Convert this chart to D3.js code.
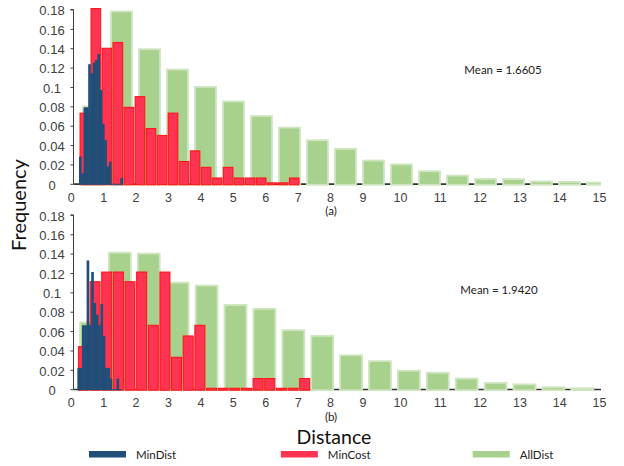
<!DOCTYPE html>
<html><head><meta charset="utf-8">
<script src="https://cdn.jsdelivr.net/npm/d3@7"></script>
<style>body{margin:0;background:#fff} svg{display:block}</style>
</head><body>
<script>
// ---------- data ----------
const xTickLabels = [0,1,2,3,4,5,6,7,8,9,10,11,12,13,14,15];
const yTickValues = [0,0.02,0.04,0.06,0.08,0.1,0.12,0.14,0.16,0.18];
const seriesNames = ["MinDist","MinCost","AllDist"];

// panel (a)
const allDistA = [0.080,0.178,0.139,0.118,0.100,0.085,0.070,0.058,0.045,0.036,0.024,0.020,0.013,0.0085,0.005,0.0048,0.0024,0.002,0.0013];
const minCostA = [0.073,0.181,0.140,0.146,0.079,0.090,0.057,0.050,0.073,0.023,0.034,0.017,0.006,0.017,0.006,0.006,0.006,0.001,0.001,0.006];
const minDistA = [0.028,0.011,0.079,0.079,0.1235,0.114,0.125,0.128,0.134,0.097,0.062,0.045,0.018,0.023,0,0,0,0,0.006];
const meanA = "Mean = 1.6605";

// panel (b)
const allDistB = [0.069,0.141,0.140,0.110,0.107,0.087,0.083,0.061,0.055,0.035,0.029,0.019,0.017,0.011,0.0065,0.005,0.002,0.001];
const minCostB = [0.044,0.111,0.121,0.121,0.111,0.121,0.066,0.121,0.033,0.055,0.066,0.001,0.001,0.001,0.001,0.011,0.011,0.001,0.001,0.011];
const minDistB = [0.022,0.022,0.066,0.066,0.133,0.066,0.121,0.089,0.077,0.066,0.088,0.055,0.022,0.022,0.011,0,0,0.011,0];
const meanB = "Mean = 1.9420";

// bin geometry (in AllDist-bin units): [first edge, step, bar width]
const binsA = {allDist:[0,1,0.75], minCost:[-0.107,0.3936,0.345], minDist:[-0.143,0.0821,0.0821]};
const binsB = {allDist:[0,1,0.76], minCost:[-0.055,0.403,0.346], minDist:[-0.09,0.0796,0.0796]};

// ---------- styles ----------
const colors = {MinDist:"#1f4e79", MinCost:"#ff3352", AllDist:"#a9d18e"};
const strokes = {MinCost:"#ff1010", AllDist:"#cfe6c0"};
const W = 624, H = 466;

const svg = d3.select("body").append("svg").attr("width", W).attr("height", H);

const layout = [
  {id:"a", allDist:allDistA, minCost:minCostA, minDist:minDistA, bins:binsA, mean:meanA,
   yBottom:183.8, yTop:9.5, barRange:[83,111], meanX:503, meanY:74, capY:215},
  {id:"b", allDist:allDistB, minCost:minCostB, minDist:minDistB, bins:binsB, mean:meanB,
   yBottom:389.2, yTop:214.9, barRange:[80,108.9], meanX:499, meanY:294, capY:420.5}
];
const plotLeft = 73.5, plotRight = 601;

layout.forEach((p, k) => {
  const g = svg.append("g");
  const y = d3.scaleLinear().domain([0, 0.18]).range([p.yBottom, p.yTop]);
  const xb = d3.scaleLinear().domain([0, 1]).range(p.barRange);
  const xl = d3.scaleLinear().domain([0, 9, 10, 15]).range([70.7, 362.5, 400, 599]);

  const clipId = "clip" + p.id;
  svg.append("clipPath").attr("id", clipId).append("rect")
     .attr("x", plotLeft).attr("y", 0).attr("width", plotRight - plotLeft).attr("height", p.yBottom + 3);

  // baseline
  g.append("line").attr("x1", plotLeft).attr("x2", plotRight)
   .attr("y1", p.yBottom + 0.3).attr("y2", p.yBottom + 0.3)
   .attr("stroke", "#333").attr("stroke-width", 1.6);

  const bars = g.append("g").attr("clip-path", `url(#${clipId})`);
  function drawSeries(vals, bin, name, cls) {
    const [e0, step, w] = bin;
    bars.append("g").selectAll("rect").data(vals).join("rect")
      .attr("x", (d, i) => xb(e0 + step * i))
      .attr("width", (d, i) => xb(e0 + step * i + w) - xb(e0 + step * i) + (name === "MinDist" ? 0.35 : 0))
      .attr("y", d => y(d))
      .attr("height", d => Math.max(0, p.yBottom + 1 - y(d)))
      .attr("fill", colors[name])
      .attr("stroke", strokes[name] || "none")
      .attr("stroke-width", name === "AllDist" ? 1.8 : (name === "MinCost" ? 1 : 0));
  }
  drawSeries(p.allDist, p.bins.allDist, "AllDist");
  drawSeries(p.minCost, p.bins.minCost, "MinCost");
  drawSeries(p.minDist, p.bins.minDist, "MinDist");

  // y axis
  const ya = g.append("g").attr("transform", `translate(${plotLeft},0)`)
    .call(d3.axisLeft(y).tickValues(yTickValues).tickSize(3).tickPadding(0)
          .tickFormat(d => String(+d.toFixed(2))));
  ya.select(".domain").attr("stroke", "#404040").attr("d", `M-3,${y(0.18)}H0V${p.yBottom}`);
  ya.selectAll(".tick line").attr("stroke", "#404040");
  ya.selectAll(".tick text").attr("x", -21.5).attr("text-anchor", "middle")
    .attr("font-family", "Liberation Sans, Arial, sans-serif").attr("font-size", 13).attr("fill", "#404040")
    .attr("dy", "0.4em");

  // x labels
  const xa = g.append("g").attr("transform", `translate(0,${p.yBottom})`)
    .call(d3.axisBottom(xl).tickValues(xTickLabels).tickSize(0).tickPadding(9).tickFormat(d => String(d)));
  xa.select(".domain").remove();
  xa.selectAll(".tick text").attr("font-family", "Liberation Sans, Arial, sans-serif")
    .attr("font-size", 12.5).attr("fill", "#404040");

  // mean
  g.append("text").attr("x", p.meanX).attr("y", p.meanY).attr("text-anchor", "middle")
   .attr("font-family", "Lato, sans-serif").attr("font-size", 11.5).attr("fill", "#222").text(p.mean);
  // caption
  g.append("text").attr("x", 331).attr("y", p.capY).attr("text-anchor", "middle")
   .attr("font-family", "Lato, sans-serif").attr("font-size", 11.5).attr("fill", "#222").text(`(${p.id})`);
});

// axis titles
svg.append("text").attr("x", 334).attr("y", 443.5).attr("text-anchor", "middle")
  .attr("font-family", "Lato, sans-serif").attr("font-size", 19.5).attr("fill", "#111").text("Distance");
svg.append("text").attr("transform", "translate(26,205) rotate(-90)").attr("text-anchor", "middle")
  .attr("font-family", "Lato, sans-serif").attr("font-size", 20).attr("fill", "#111").text("Frequency");

// legend
const legendX = d3.scalePoint().domain(seriesNames).range([89, 472.7]);
const lg = svg.append("g").selectAll("g").data(seriesNames).join("g")
  .attr("transform", d => `translate(${legendX(d)},451)`);
lg.append("rect").attr("width", 37).attr("height", 6.5).attr("fill", d => colors[d]);
lg.append("text").attr("x", 47).attr("y", 7.5)
  .attr("font-family", "Lato, sans-serif").attr("font-size", 11.5).attr("fill", "#222").text(d => d);
</script>
</body></html>
